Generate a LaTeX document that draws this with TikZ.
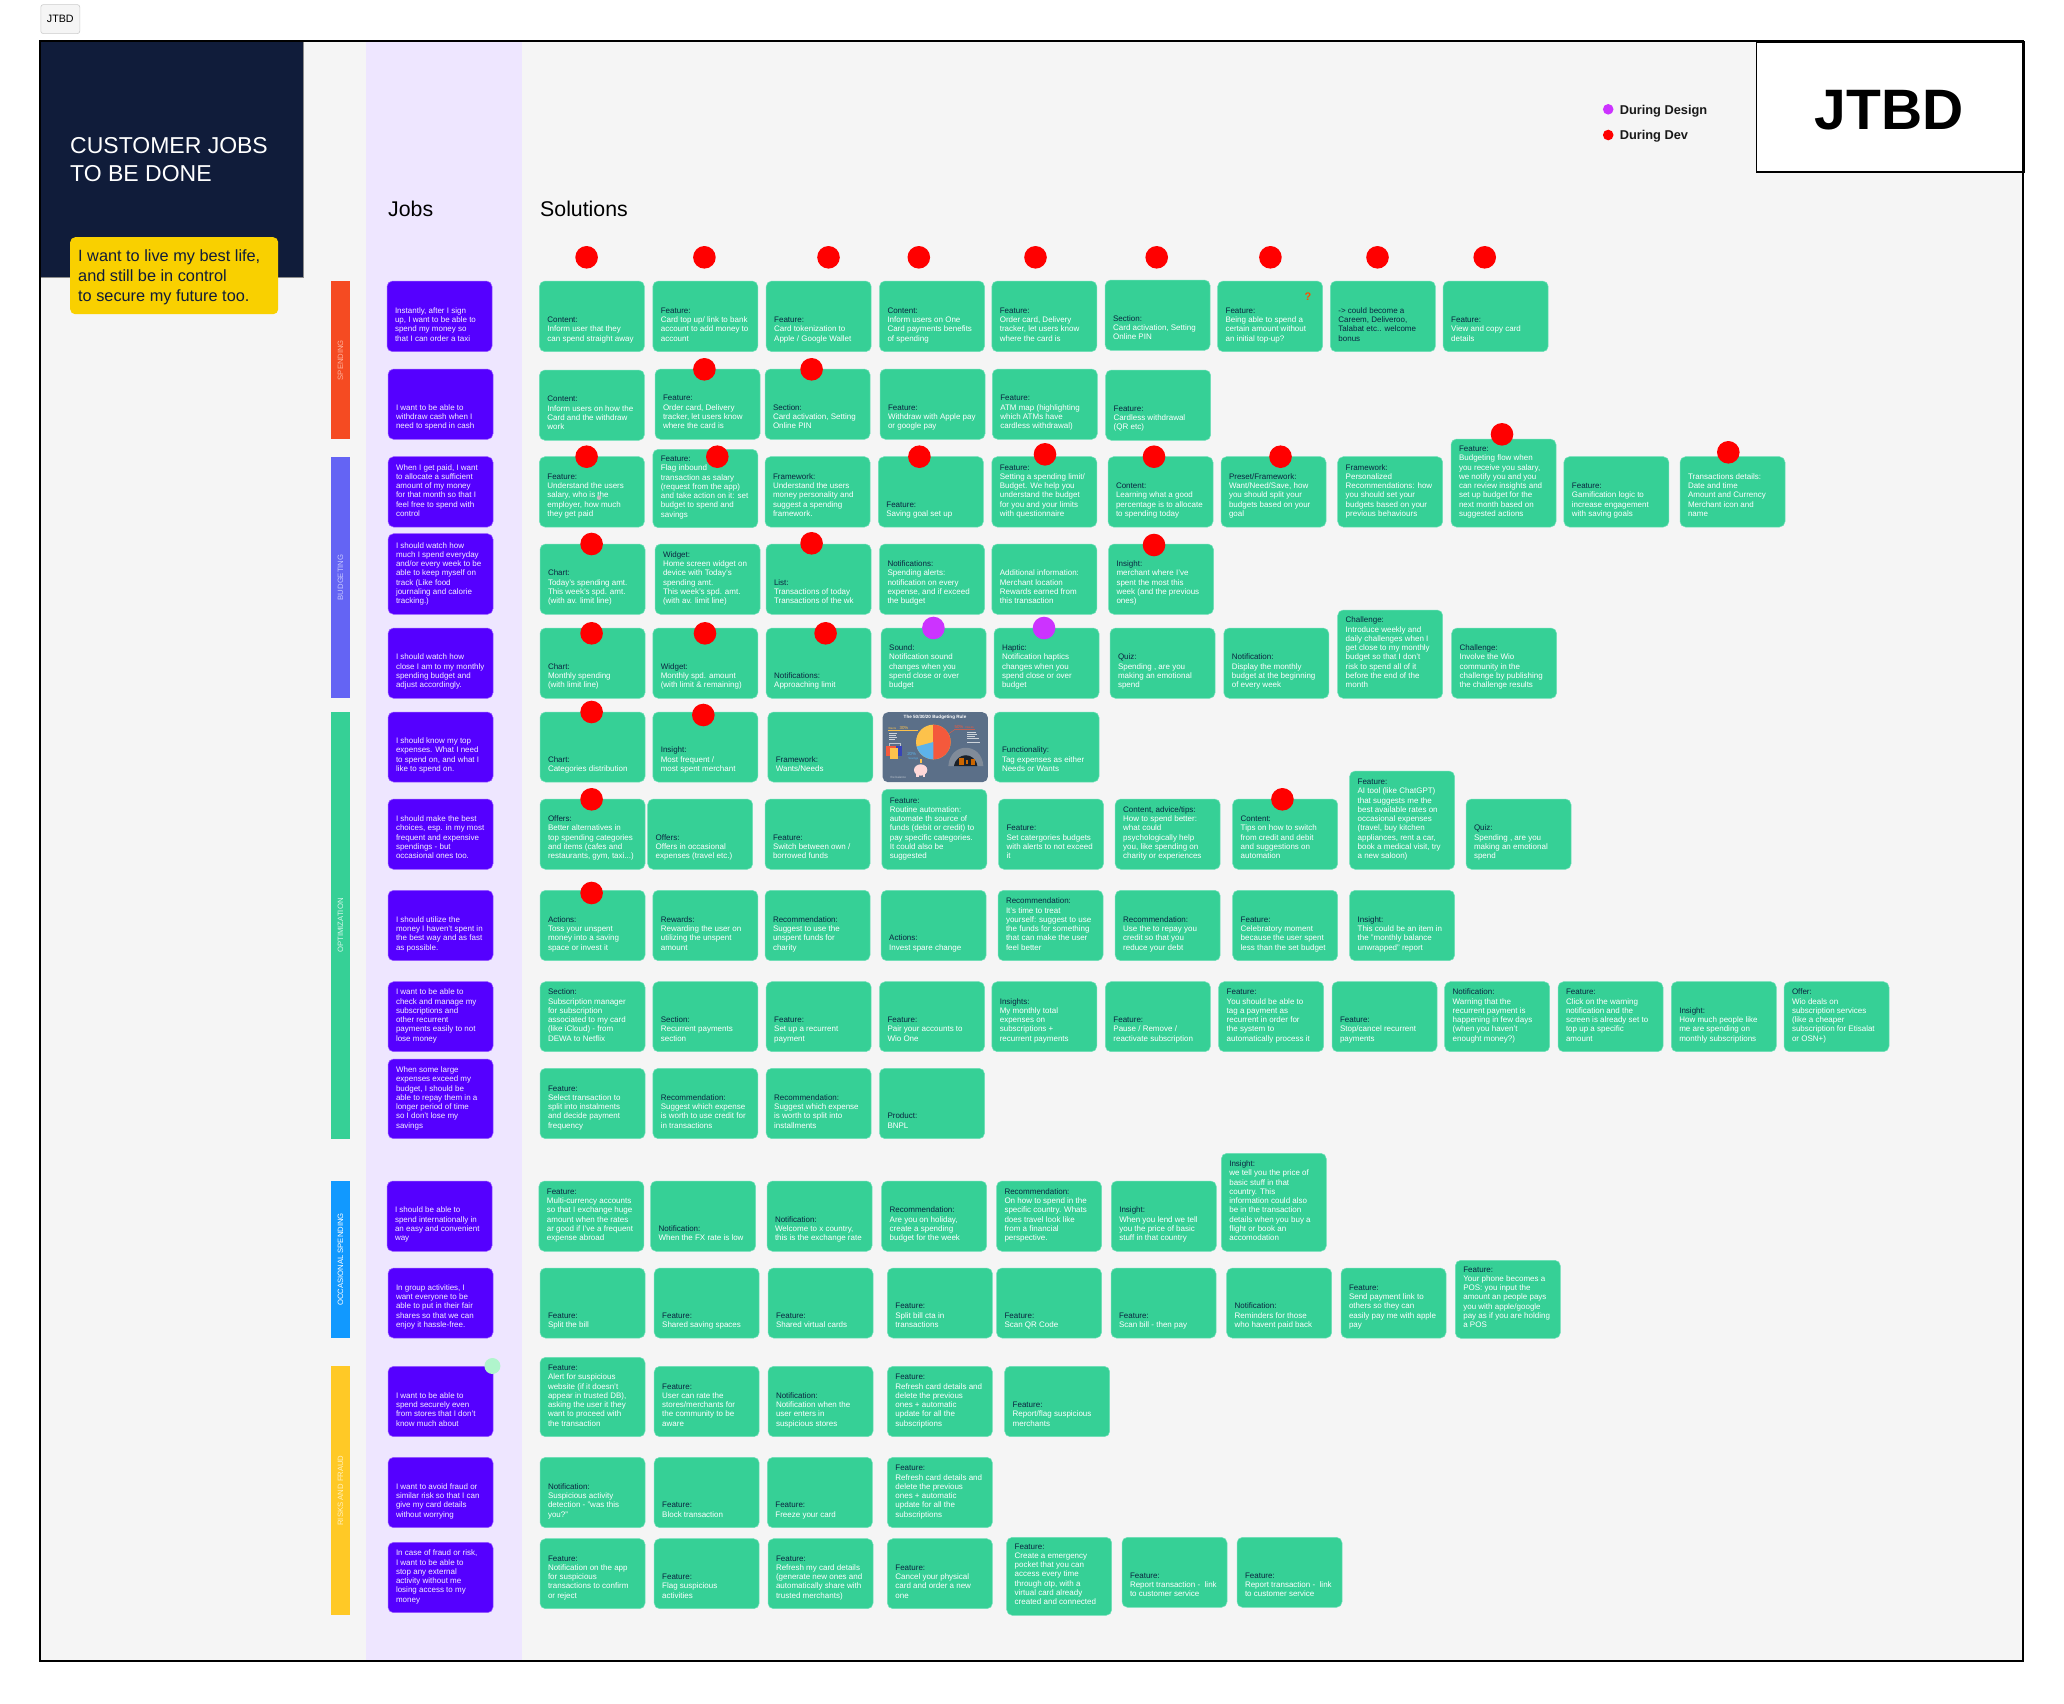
\documentclass[tikz,border=0pt]{standalone}
\usepackage{fontspec}
\setmainfont{Liberation Sans}
\definecolor{pagebg}{HTML}{F5F5F5}
\definecolor{navy}{HTML}{101C3A}
\definecolor{lav}{HTML}{EEE6FF}
\definecolor{yel}{HTML}{F9D000}
\definecolor{grn}{HTML}{36D096}
\definecolor{grnb}{HTML}{6FE0B8}
\definecolor{vio}{HTML}{5500FF}
\definecolor{viob}{HTML}{9A5CFF}
\definecolor{lbl}{HTML}{0A2540}
\definecolor{bodyt}{HTML}{FFFFFF}
\definecolor{jobt}{HTML}{F6F0FF}
\definecolor{slate}{HTML}{5B6F88}
\definecolor{pur}{HTML}{CC33FF}
\definecolor{bandA}{HTML}{F54B22}
\definecolor{bandB}{HTML}{6464F4}
\definecolor{bandD}{HTML}{1199FF}
\definecolor{bandE}{HTML}{FFC926}
\definecolor{bandAt}{HTML}{FFB09A}
\definecolor{bandBt}{HTML}{C8C8FF}
\definecolor{bandCt}{HTML}{D5F7EA}
\definecolor{bandEt}{HTML}{FFF2C0}
\definecolor{pieY}{HTML}{FDC24B}
\definecolor{pieR}{HTML}{F4593C}
\definecolor{pieB}{HTML}{5DB3EA}
\definecolor{mint}{HTML}{B0F5CC}
\tikzset{
  cardbox/.style={rectangle,rounded corners=5.5pt,fill=grn,draw=grnb,line width=.5pt,inner sep=0pt,outer sep=0pt,anchor=north west,minimum width=105pt},
  jobbox/.style={cardbox,fill=vio,draw=viob},
  cardtext/.style={inner sep=0pt,outer sep=0pt,anchor=base west,align=left,text=bodyt,font=\fontsize{8}{9.3}\selectfont},
  jobtext/.style={cardtext,text=jobt},
  barbox/.style={rectangle,inner sep=0pt,outer sep=0pt,anchor=north west,minimum width=19pt},
  bartext/.style={rotate=90,inner sep=0pt,font=\fontsize{7.7}{9}\selectfont},
  dotred/.style={circle,fill=red,inner sep=0pt,minimum size=22.6pt},
  dotvio/.style={circle,fill=pur,inner sep=0pt,minimum size=22.6pt},
  headtext/.style={inner sep=0pt,anchor=base west,font=\fontsize{21.3}{24}\selectfont,text=black}
}
\newcommand\lb[1]{\textcolor{lbl}{#1}}
\newcommand\card[5]{%
  \node[cardbox,minimum height={#4-#3}] (#1) at (#2,#3) {};
  \node[cardtext] (#1t) at ([xshift=8pt,yshift=10.5pt]#1.south west) {#5};}
\newcommand\job[5]{%
  \node[jobbox,minimum height={#4-#3}] (#1) at (#2,#3) {};
  \node[jobtext] (#1t) at ([xshift=8pt,yshift=10.5pt]#1.south west) {#5};}
\newcommand\rdot[3]{\node[dotred] (#1) at (#2,#3) {};}
\newcommand\vdot[3]{\node[dotvio] (#1) at (#2,#3) {};}
\newcommand\band[6]{%
  \node[barbox,fill=#4,minimum height={#3-#2}] (#1) at (331,#2) {};
  \node[bartext,text=#5] (#1t) at (#1.center) {#6};}
\begin{document}
\begin{tikzpicture}[x=1pt,y=-1pt]
\useasboundingbox (0,0) rectangle (2064,1703);
\fill[white] (0,0) rectangle (2064,1703);
\node[rectangle,fill=pagebg,draw=black!20,line width=.6pt,rounded corners=2.5pt,inner sep=0pt,minimum width=39pt,minimum height=29pt,anchor=north west,font=\fontsize{10.7}{12}\selectfont] (tab) at (40.5,4.3) {JTBD};
\node[rectangle,fill=pagebg,inner sep=0pt,minimum width=1983pt,minimum height=1620pt,anchor=north west] (sheet) at (40,41) {};
\node[rectangle,fill=lav,inner sep=0pt,minimum width=155.4pt,minimum height=1620pt,anchor=north west] (jobcol) at (366,41) {};
\node[rectangle,fill=navy,draw=black!45!white,line width=.6pt,inner sep=0pt,minimum width=263pt,minimum height=236pt,anchor=north west] (navybox) at (40,41) {};
\node[inner sep=0pt,anchor=base west,align=left,text=white,font=\fontsize{23}{28}\selectfont] (title) at (70,181) {CUSTOMER JOBS\\TO BE DONE};
\node[rectangle,rounded corners=5pt,fill=yel,inner sep=0pt,minimum width=208pt,minimum height=77pt,anchor=north west] (goal) at (70,237) {};
\node[inner sep=0pt,anchor=base west,align=left,text=navy,font=\fontsize{16.3}{20}\selectfont] (goalt) at (78,301.7) {I want to live my best life,\\and still be in control\\to secure my future too.};
\node[headtext] (jobsh) at (388,216) {Jobs};
\node[headtext] (solh) at (540,216) {Solutions};
% legend
\node[circle,fill=pur,inner sep=0pt,minimum size=10.6pt] (lg1) at (1608.2,109.3) {};
\node[circle,fill=red,inner sep=0pt,minimum size=10.6pt] (lg2) at (1608.2,135) {};
\node[inner sep=0pt,anchor=base west,font=\fontsize{12.8}{15}\selectfont\bfseries,text=black!90] (lg1t) at (1619.6,114.3) {During Design};
\node[inner sep=0pt,anchor=base west,font=\fontsize{12.8}{15}\selectfont\bfseries,text=black!90] (lg2t) at (1619.6,139.3) {During Dev};
% bands
\band{bA}{281.3}{439}{bandA}{bandAt}{SPENDING}
\band{bB}{456.7}{698}{bandB}{bandBt}{BUDGETING}
\band{bC}{712}{1139}{grn}{bandCt}{OPTIMIZATION}
\band{bD}{1181}{1338}{bandD}{white}{OCCASIONAL SPENDING}
\band{bE}{1366}{1615}{bandE}{bandEt}{RISKS AND FRAUD}
% jobs
\job{j1}{387}{281}{351.7}{Instantly, after I sign\\up, I want to be able to\\spend my money so\\that I can order a taxi}
\job{j2}{388}{369}{439.3}{I want to be able to\\withdraw cash when I\\need to spend in cash}
\job{j3}{388}{456.7}{527}{When I get paid, I want\\to allocate a sufficient\\amount of my money\\for that month so that I\\feel free to spend with\\control}
\job{j4}{388}{533.7}{614.3}{I should watch how\\much I spend everyday\\and/or every week to be\\able to keep myself on\\track (Like food\\journaling and calorie\\tracking.)}
\job{j5}{388}{628}{698.3}{I should watch how\\close I am to my monthly\\spending budget and\\adjust accordingly.}
\job{j6}{388}{712}{782}{I should know my top\\expenses. What I need\\to spend on, and what I\\like to spend on.}
\job{j7}{388}{799}{869.3}{I should make the best\\choices, esp. in my most\\frequent and expensive\\spendings - but\\occasional ones too.}
\job{j8}{388}{890.3}{960.7}{I should utilize the\\money I haven't spent in\\the best way and as fast\\as possible.}
\job{j9}{388}{981.7}{1051.7}{I want to be able to\\check and manage my\\subscriptions and\\other recurrent\\payments easily to not\\lose money}
\job{j10}{388}{1059}{1138.7}{When some large\\expenses exceed my\\budget, I should be\\able to repay them in a\\longer period of time\\so I don't lose my\\savings}
\job{j11}{387}{1181}{1251.3}{I should be able to\\spend internationally in\\an easy and convenient\\way}
\job{j12}{388}{1268}{1338}{In group activities, I\\want everyone to be\\able to put in their fair\\shares so that we can\\enjoy it hassle-free.}
\job{j13}{388}{1366.3}{1436.7}{I want to be able to\\spend securely even\\from stores that I don't\\know much about}
\job{j14}{388}{1457.3}{1527.7}{I want to avoid fraud or\\similar risk so that I can\\give my card details\\without worrying}
\job{j15}{388}{1542.3}{1612.7}{In case of fraud or risk,\\I want to be able to\\stop any external\\activity without me\\losing access to my\\money}
% row 1
\card{a1}{539.4}{281}{351.7}{\lb{Content:}\\Inform user that they\\can spend straight away}
\card{a2}{652.8}{281}{351.7}{\lb{Feature:}\\Card top up/ link to bank\\account to add money to\\account}
\card{a3}{766.2}{281}{351.7}{\lb{Feature:}\\Card tokenization to\\Apple / Google Wallet}
\card{a4}{879.5}{281}{351.7}{\lb{Content:}\\Inform users on One\\Card payments benefits\\of spending}
\card{a5}{991.8}{281}{351.7}{\lb{Feature:}\\Order card, Delivery\\tracker, let users know\\where the card is}
\card{a6}{1105.1}{280}{350.3}{\lb{Section:}\\Card activation, Setting\\Online PIN}
\card{a7}{1217.6}{281}{351.7}{\lb{Feature:}\\Being able to spend a\\certain amount without\\an initial top-up?}
\card{a8}{1330.4}{281}{351.7}{\lb{-> could become a}\\\lb{Careem, Deliveroo,}\\\lb{Talabat etc.. welcome}\\\lb{bonus}}
\card{a9}{1443.2}{281}{351.7}{\lb{Feature:}\\View and copy card\\details}
% row 2
\card{b1}{539.4}{370}{440.3}{\lb{Content:}\\Inform users on how the\\Card and the withdraw\\work}
\card{b2}{655}{369}{439.3}{\lb{Feature:}\\Order card, Delivery\\tracker, let users know\\where the card is}
\card{b3}{765}{369}{439.3}{\lb{Section:}\\Card activation, Setting\\Online PIN}
\card{b4}{880}{369}{439.3}{\lb{Feature:}\\Withdraw with Apple pay\\or google pay}
\card{b5}{992.3}{369}{439.3}{\lb{Feature:}\\ATM map (highlighting\\which ATMs have\\cardless withdrawal)}
\card{b6}{1105.7}{370}{440.3}{\lb{Feature:}\\Cardless withdrawal\\(QR etc)}
% row 3
\card{c1}{539.4}{456.7}{527}{\lb{Feature:}\\Understand the users\\salary, who is the\\employer, how much\\they get paid}
\card{c2}{652.8}{449.3}{527.7}{\lb{Feature:}\\Flag inbound\\transaction as salary\\(request from the app)\\and take action on it: set\\budget to spend and\\savings}
\card{c3}{765}{456.7}{527}{\lb{Framework:}\\Understand the users\\money personality and\\suggest a spending\\framework.}
\card{c4}{878.4}{456.7}{527}{\lb{Feature:}\\Saving goal set up}
\card{c5}{991.8}{456.7}{527}{\lb{Feature:}\\Setting a spending limit/\\Budget. We help you\\understand the budget\\for you and your limits\\with questionnaire}
\card{c6}{1108}{456.7}{527}{\lb{Content:}\\Learning what a good\\percentage is to allocate\\to spending today}
\card{c7}{1221}{456.7}{527}{\lb{Preset/Framework:}\\Want/Need/Save, how\\you should split your\\budgets based on your\\goal}
\card{c8}{1337.7}{456.7}{527}{\lb{Framework:}\\Personalized\\Recommendations: how\\you should set your\\budgets based on your\\previous behaviours}
\card{c9}{1451}{439}{527}{\lb{Feature:}\\Budgeting flow when\\you receive you salary,\\we notify you and you\\can review insights and\\set up budget for the\\next month based on\\suggested actions}
\card{c10}{1563.9}{456.7}{527}{\lb{Feature:}\\Gamification logic to\\increase engagement\\with saving goals}
\card{c11}{1680}{456.7}{527}{Transactions details:\\Date and time\\Amount and Currency\\Merchant icon and\\name}
% row 4
\card{d1}{540}{544}{614.3}{\lb{Chart:}\\Today's spending amt.\\This week's spd. amt.\\(with av. limit line)}
\card{d2}{655}{544}{614.3}{\lb{Widget:}\\Home screen widget on\\device with Today's\\spending amt.\\This week's spd. amt.\\(with av. limit line)}
\card{d3}{766}{544}{614.3}{\lb{List:}\\Transactions of today\\Transactions of the wk}
\card{d4}{879.5}{544}{614.3}{\lb{Notifications:}\\Spending alerts:\\notification on every\\expense, and if exceed\\the budget}
\card{d5}{991.8}{544}{614.3}{Additional information:\\Merchant location\\Rewards earned from\\this transaction}
\card{d6}{1108.5}{544}{614.3}{\lb{Insight:}\\merchant where I've\\spent the most this\\week (and the previous\\ones)}
% row 5
\card{e1}{540}{628}{698.3}{\lb{Chart:}\\Monthly spending\\(with limit line)}
\card{e2}{652.8}{628}{698.3}{\lb{Widget:}\\Monthly spd. amount\\(with limit \& remaining)}
\card{e3}{766.2}{628}{698.3}{\lb{Notifications:}\\Approaching limit}
\card{e4}{881.2}{628}{698.3}{\lb{Sound:}\\Notification sound\\changes when you\\spend close or over\\budget}
\card{e5}{994}{628}{698.3}{\lb{Haptic:}\\Notification haptics\\changes when you\\spend close or over\\budget}
\card{e6}{1110}{628}{698.3}{\lb{Quiz:}\\Spending , are you\\making an emotional\\spend}
\card{e7}{1223.8}{628}{698.3}{\lb{Notification:}\\Display the monthly\\budget at the beginning\\of every week}
\card{e8}{1337.7}{610}{698.3}{\lb{Challenge:}\\Introduce weekly and\\daily challenges when I\\get close to my monthly\\budget so that I don't\\risk to spend all of it\\before the end of the\\month}
\card{e9}{1451.6}{628}{698.3}{\lb{Challenge:}\\Involve the Wio\\community in the\\challenge by publishing\\the challenge results}
% row 6
\card{f1}{540}{712}{782}{\lb{Chart:}\\Categories distribution}
\card{f2}{652.8}{712}{782}{\lb{Insight:}\\Most frequent /\\most spent merchant}
\card{f3}{767.8}{712}{782}{\lb{Framework:}\\Wants/Needs}
\node[rectangle,rounded corners=5.5pt,fill=slate,inner sep=0pt,minimum width=105.4pt,minimum height=70pt,anchor=north west] (f4) at (882.3,712) {};
\card{f5}{994}{712}{782}{\lb{Functionality:}\\Tag expenses as either\\Needs or Wants}
% infographic
\begin{scope}[shift={(860,700)},x=.3333pt,y=-.3333pt]
  \node[inner sep=0pt,text=white,font=\fontsize{4.6}{5}\selectfont\bfseries] (ig1) at (225,51) {The 50/30/20 Budgeting Rule};
  \begin{scope}
    \clip (220,126) circle [radius=17.3pt];
    \fill[pieY] (160,70) rectangle (280,180);
    \fill[pieR] (220,70) rectangle (280,180);
    \fill[pieB] (220,126) -- (220,190) -- (120,190) -- (120,153) -- cycle;
  \end{scope}
  \draw[pieY,line width=.4pt] (85,92) -- (175,92);
  \draw[pieR,line width=.4pt] (268,100) -- (285,88) -- (345,88);
  \node[inner sep=0pt,text=pieY,font=\fontsize{2.8}{3}\selectfont] (ig2) at (97,87) {Wants};
  \node[inner sep=0pt,text=pieY,font=\fontsize{4.4}{5}\selectfont] (ig3) at (132,85) {30\%};
  \node[inner sep=0pt,text=pieR,font=\fontsize{4.4}{5}\selectfont] (ig4) at (297,81) {50\%};
  \node[inner sep=0pt,text=pieR,font=\fontsize{2.8}{3}\selectfont] (ig5) at (329,82) {Needs};
  \node[inner sep=0pt,text=pieB,font=\fontsize{4.4}{5}\selectfont] (ig6) at (155,161) {20\%};
  \node[inner sep=0pt,text=pieB,font=\fontsize{2.8}{3}\selectfont] (ig7) at (160,176) {Savings};
  \fill[white!70!slate] (88,98) rectangle (112,100);
  \fill[white!70!slate] (88,104) rectangle (108,106);
  \fill[white!70!slate] (88,110) rectangle (112,112);
  \fill[white!70!slate] (88,116) rectangle (105,118);
  \draw[white!60!slate,line width=.3pt] (88,130) rectangle (120,150);
  \fill[blue!40!slate] (95,138) rectangle (126,168);
  \fill[pieR] (78,138) rectangle (108,168);
  \fill[pieY] (90,145) rectangle (115,177);
  \fill[white!70!slate] (320,96) rectangle (348,98);
  \fill[white!70!slate] (320,102) rectangle (350,104);
  \fill[white!70!slate] (320,108) rectangle (345,110);
  \fill[white!70!slate] (320,114) rectangle (358,116);
  \fill[white!70!slate] (320,126) rectangle (360,128);
  \fill[black!20!slate!70!white] (265,198) .. controls (270,125) and (365,125) .. (370,198) -- (352,198) .. controls (345,155) and (290,155) .. (282,198) -- cycle;
  \fill[black!70!slate] (282,198) .. controls (290,155) and (345,155) .. (352,198) -- cycle;
  \fill[orange!80!black] (298,175) rectangle (312,195);
  \fill[orange!80!black] (318,180) rectangle (325,192);
  \fill[orange!80!black] (332,178) rectangle (345,195);
  \fill[red!15!white] (182,210) ellipse [x radius=20pt/3,y radius=17pt/3];
  \fill[red!15!white] (168,222) rectangle (176,232);
  \fill[red!15!white] (188,222) rectangle (196,232);
  \fill[pieY] (180,178) rectangle (186,190);
  \node[inner sep=0pt,text=white!60!slate,font=\fontsize{3}{4}\selectfont] (ig8) at (115,231) {the balance};
\end{scope}
% row 7
\card{g1}{540}{799}{869.3}{\lb{Offers:}\\Better alternatives in\\top spending categories\\and items (cafes and\\restaurants, gym, taxi...)}
\card{g2}{647.7}{799}{869.3}{\lb{Offers:}\\Offers in occasional\\expenses (travel etc.)}
\card{g3}{765}{799}{869.3}{\lb{Feature:}\\Switch between own /\\borrowed funds}
\card{g4}{881.8}{789.3}{869.3}{\lb{Feature:}\\Routine automation:\\automate th source of\\funds (debit or credit) to\\pay specific categories.\\It could also be\\suggested}
\card{g5}{998.5}{799}{869.3}{\lb{Feature:}\\Set catergories budgets\\with alerts to not exceed\\it}
\card{g6}{1115.2}{799}{869.3}{\lb{Content, advice/tips:}\\How to spend better:\\what could\\psychologically help\\you, like spending on\\charity or experiences}
\card{g7}{1232.7}{799}{869.3}{\lb{Content:}\\Tips on how to switch\\from credit and debit\\and suggestions on\\automation}
\card{g8}{1349.6}{771}{869.3}{\lb{Feature:}\\AI tool (like ChatGPT)\\that suggests me the\\best available rates on\\occasional expenses\\(travel, buy kitchen\\appliances, rent a car,\\book a medical visit, try\\a new saloon)}
\card{g9}{1466}{799}{869.3}{\lb{Quiz:}\\Spending , are you\\making an emotional\\spend}
% row 8
\card{h1}{540}{890.3}{960.7}{\lb{Actions:}\\Toss your unspent\\money into a saving\\space or invest it}
\card{h2}{652.8}{890.3}{960.7}{\lb{Rewards:}\\Rewarding the user on\\utilizing the unspent\\amount}
\card{h3}{765}{890.3}{960.7}{\lb{Recommendation:}\\Suggest to use the\\unspent funds for\\charity}
\card{h4}{881.2}{890.3}{960.7}{\lb{Actions:}\\Invest spare change}
\card{h5}{998}{890.3}{960.7}{\lb{Recommendation:}\\It's time to treat\\yourself: suggest to use\\the funds for something\\that can make the user\\feel better}
\card{h6}{1115.2}{890.3}{960.7}{\lb{Recommendation:}\\Use the to repay you\\credit so that you\\reduce your debt}
\card{h7}{1232.7}{890.3}{960.7}{\lb{Feature:}\\Celebratory moment\\because the user spent\\less than the set budget}
\card{h8}{1349.6}{890.3}{960.7}{\lb{Insight:}\\This could be an item in\\the "monthly balance\\unwrapped" report}
% row 9
\card{i1}{540}{981.7}{1051.7}{\lb{Section:}\\Subscription manager\\for subscription\\associated to my card\\(like iCloud) - from\\DEWA to Netflix}
\card{i2}{652.8}{981.7}{1051.7}{\lb{Section:}\\Recurrent payments\\section}
\card{i3}{766.2}{981.7}{1051.7}{\lb{Feature:}\\Set up a recurrent\\payment}
\card{i4}{879.5}{981.7}{1051.7}{\lb{Feature:}\\Pair your accounts to\\Wio One}
\card{i5}{991.8}{981.7}{1051.7}{\lb{Insights:}\\My monthly total\\expenses on\\subscriptions +\\recurrent payments}
\card{i6}{1105.4}{981.7}{1051.7}{\lb{Feature:}\\Pause / Remove /\\reactivate subscription}
\card{i7}{1218.7}{981.7}{1051.7}{\lb{Feature:}\\You should be able to\\tag a payment as\\recurrent in order for\\the system to\\automatically process it}
\card{i8}{1332}{981.7}{1051.7}{\lb{Feature:}\\Stop/cancel recurrent\\payments}
\card{i9}{1444.7}{981.7}{1051.7}{\lb{Notification:}\\Warning that the\\recurrent payment is\\happening in few days\\(when you haven't\\enought money?)}
\card{i10}{1558}{981.7}{1051.7}{\lb{Feature:}\\Click on the warning\\notification and the\\screen is already set to\\top up a specific\\amount}
\card{i11}{1671.3}{981.7}{1051.7}{\lb{Insight:}\\How much people like\\me are spending on\\monthly subscriptions}
\card{i12}{1784}{981.7}{1051.7}{\lb{Offer:}\\Wio deals on\\subscription services\\(like a cheaper\\subscription for Etisalat\\or OSN+)}
% row 10
\card{k1}{540}{1068.3}{1138.7}{\lb{Feature:}\\Select transaction to\\split into instalments\\and decide payment\\frequency}
\card{k2}{652.8}{1068.3}{1138.7}{\lb{Recommendation:}\\Suggest which expense\\is worth to use credit for\\in transactions}
\card{k3}{766.2}{1068.3}{1138.7}{\lb{Recommendation:}\\Suggest which expense\\is worth to split into\\installments}
\card{k4}{879.5}{1068.3}{1138.7}{\lb{Product:}\\BNPL}
% row 11
\card{l1}{538.9}{1181}{1251.3}{\lb{Feature:}\\Multi-currency accounts\\so that I exchange huge\\amount when the rates\\ar good if I've a frequent\\expense abroad}
\card{l2}{650.6}{1181}{1251.3}{\lb{Notification:}\\When the FX rate is low}
\card{l3}{767}{1181}{1251.3}{\lb{Notification:}\\Welcome to x country,\\this is the exchange rate}
\card{l4}{881.7}{1181}{1251.3}{\lb{Recommendation:}\\Are you on holiday,\\create a spending\\budget for the week}
\card{l5}{996.5}{1181}{1251.3}{\lb{Recommendation:}\\On how to spend in the\\specific country. Whats\\does travel look like\\from a financial\\perspective.}
\card{l6}{1111.3}{1181}{1251.3}{\lb{Insight:}\\When you lend we tell\\you the price of basic\\stuff in that country}
\card{l7}{1221.3}{1153.3}{1251.3}{\lb{Insight:}\\we tell you the price of\\basic stuff in that\\country. This\\information could also\\be in the transaction\\details when you buy a\\flight or book an\\accomodation}
% row 12
\card{m1}{540}{1268}{1338}{\lb{Feature:}\\Split the bill}
\card{m2}{654.2}{1268}{1338}{\lb{Feature:}\\Shared saving spaces}
\card{m3}{768}{1268}{1338}{\lb{Feature:}\\Shared virtual cards}
\card{m4}{887.4}{1268}{1338}{\lb{Feature:}\\Split bill cta in\\transactions}
\card{m5}{996.5}{1268}{1338}{\lb{Feature:}\\Scan QR Code}
\card{m6}{1111}{1268}{1338}{\lb{Feature:}\\Scan bill - then pay}
\card{m7}{1226.7}{1268}{1338}{\lb{Notification:}\\Reminders for those\\who havent paid back}
\card{m8}{1341}{1268}{1338}{\lb{Feature:}\\Send payment link to\\others so they can\\easily pay me with apple\\pay}
\card{m9}{1455.3}{1260.3}{1338.3}{\lb{Feature:}\\Your phone becomes a\\POS: you input the\\amount an people pays\\you with apple/google\\pay as if you are holding\\a POS}
% row 13
\card{n1}{540}{1357.3}{1436.7}{\lb{Feature:}\\Alert for suspicious\\website (if it doesn't\\appear in trusted DB),\\asking the user it they\\want to proceed with\\the transaction}
\card{n2}{654.2}{1366.3}{1436.7}{\lb{Feature:}\\User can rate the\\stores/merchants for\\the community to be\\aware}
\card{n3}{768}{1366.3}{1436.7}{\lb{Notification:}\\Notification when the\\user enters in\\suspicious stores}
\card{n4}{887.4}{1366.3}{1436.7}{\lb{Feature:}\\Refresh card details and\\delete the previous\\ones + automatic\\update for all the\\subscriptions}
\card{n5}{1004.7}{1366.3}{1436.7}{\lb{Feature:}\\Report/flag suspicious\\merchants}
% row 14
\card{o1}{540}{1457.3}{1527.7}{\lb{Notification:}\\Suspicious activity\\detection - "was this\\you?"}
\card{o2}{654.2}{1457.3}{1527.7}{\lb{Feature:}\\Block transaction}
\card{o3}{767.4}{1457.3}{1527.7}{\lb{Feature:}\\Freeze your card}
\card{o4}{887.4}{1457.3}{1527.7}{\lb{Feature:}\\Refresh card details and\\delete the previous\\ones + automatic\\update for all the\\subscriptions}
% row 15
\card{p1}{540}{1538.7}{1608.7}{\lb{Feature:}\\Notification on the app\\for suspicious\\transactions to confirm\\or reject}
\card{p2}{654.2}{1538.7}{1608.7}{\lb{Feature:}\\Flag suspicious\\activities}
\card{p3}{768}{1538.7}{1608.7}{\lb{Feature:}\\Refresh my card details\\(generate new ones and\\automatically share with\\trusted merchants)}
\card{p4}{887.4}{1538.7}{1608.7}{\lb{Feature:}\\Cancel your physical\\card and order a new\\one}
\card{p5}{1006.7}{1537.3}{1615.3}{\lb{Feature:}\\Create a emergency\\pocket that you can\\access every time\\through otp, with a\\virtual card already\\created and connected}
\card{p6}{1122}{1537.3}{1607.3}{\lb{Feature:}\\Report transaction -~~link\\to customer service}
\card{p7}{1237}{1537.3}{1607.3}{\lb{Feature:}\\Report transaction -~~link\\to customer service}
% dots
\rdot{q1}{586.6}{257.3}\rdot{q2}{704.4}{257.3}\rdot{q3}{828.5}{257.3}\rdot{q4}{918.8}{257.3}\rdot{q5}{1035.5}{257.3}\rdot{q6}{1156.7}{257.3}\rdot{q7}{1270.4}{257.3}\rdot{q8}{1377.5}{257.3}\rdot{q9}{1484.7}{257.3}
\rdot{q10}{704.4}{369.3}\rdot{q11}{811.6}{369.3}
\rdot{q12}{586.6}{456.7}\rdot{q13}{717.3}{456.7}\rdot{q14}{919.4}{456.7}\rdot{q15}{1045}{454.3}\rdot{q16}{1154}{456.7}\rdot{q17}{1280.5}{456.7}\rdot{q18}{1502}{434.3}\rdot{q19}{1728.3}{452.3}
\rdot{q20}{591.6}{544}\rdot{q21}{811.6}{543.3}\rdot{q22}{1154}{545}
\rdot{q23}{591.6}{633.3}\rdot{q24}{705}{633.3}\rdot{q25}{825.6}{633.3}
\vdot{q26}{933.4}{628}\vdot{q27}{1044}{628}
\rdot{q28}{591.6}{712}\rdot{q29}{703.3}{715}
\rdot{q30}{591.6}{799.3}\rdot{q31}{1282.4}{799.3}
\rdot{q32}{591.6}{893}
\node[circle,fill=mint,inner sep=0pt,minimum size=16pt] (q33) at (492.4,1366) {};
\node[circle,fill=black!25,inner sep=0pt,minimum size=4.5pt] (q34) at (599,497.7) {};
\node[inner sep=0pt,text=orange!60!red,font=\fontsize{11}{12}\selectfont\bfseries] (q35) at (1308,296.7) {?};
% title box and frame
\node[rectangle,fill=white,draw=black,line width=1.6pt,inner sep=0pt,minimum width=267.3pt,minimum height=130pt,anchor=north west] (brand) at (1755.7,41) {};
\node[inner sep=0pt,font=\fontsize{57}{60}\selectfont\bfseries,text=black] (brandt) at (1889,110) {JTBD};
\draw[black,line width=2pt] (sheet.north west) rectangle (sheet.south east);
\end{tikzpicture}
\end{document}
